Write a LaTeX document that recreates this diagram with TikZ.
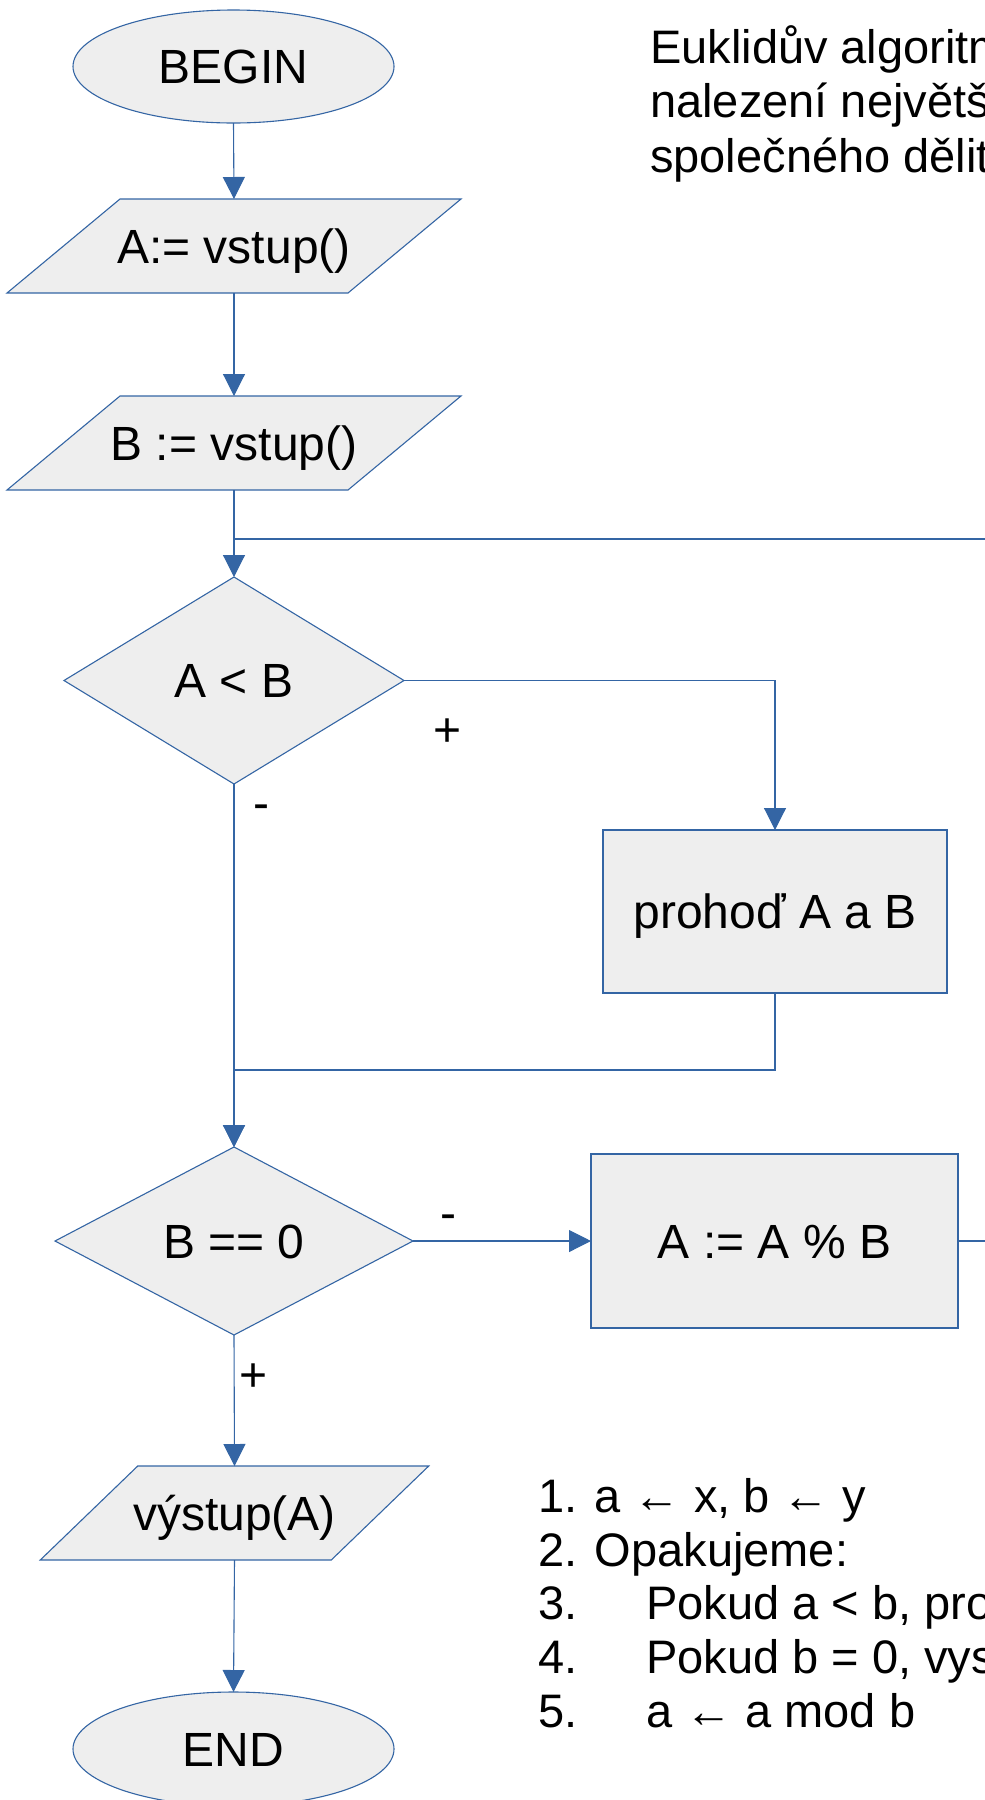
\documentclass[tikz,border=0pt]{standalone}
\usepackage{fontspec}
\setmainfont{Liberation Sans}
\usetikzlibrary{shapes.geometric,arrows.meta,calc}
\definecolor{edgeblue}{HTML}{3465A4}
\definecolor{shapefill}{HTML}{EEEEEE}

% parallelogram input/output block: name, x, y, half side, half slant, text
\newcommand\ioblock[6]{%
  \filldraw[ioshape] (#2-#4+#5,#3-47) -- (#2+#4+#5,#3-47)
    -- (#2+#4-#5,#3+47) -- (#2-#4-#5,#3+47) -- cycle;
  \node[iotext] (#1) at (#2,#3) {#6};
}

\begin{document}
\begin{tikzpicture}[x=1pt,y=-1pt,
  every node/.style={font=\fontsize{48pt}{54pt}\selectfont},
  shapebase/.style={draw=edgeblue, fill=shapefill, line width=1.1pt,
    inner sep=0pt, outer sep=0pt, text height=34pt, text depth=0pt},
  terminal/.style={shapebase, ellipse, minimum width=321pt, minimum height=113pt},
  decision/.style={shapebase, diamond},
  process/.style={shapebase, rectangle},
  ioshape/.style={draw=edgeblue, fill=shapefill, line width=1.1pt},
  iotext/.style={rectangle, inner sep=0pt, outer sep=0pt, minimum width=200pt,
    minimum height=94pt, text height=34pt, text depth=0pt},
  flow/.style={draw=edgeblue, line width=1.1pt, -{Triangle[length=22pt,width=22pt]}},
  link/.style={draw=edgeblue, line width=1.1pt},
  branch/.style={anchor=base, inner sep=0pt},
  prose/.style={anchor=base west, inner sep=0pt, font=\fontsize{47pt}{54pt}\selectfont}
]
\useasboundingbox (0,0) rectangle (985,1800);

% heading
\node[prose] (title1) at (650,63) {Euklidův algoritmus pro};
\node[prose] (title2) at (650,117) {nalezení největšího};
\node[prose] (title3) at (650,172) {společného dělitele};

% flowchart blocks
\node[terminal] (begin) at (233.5,66.5) {BEGIN};
\ioblock{in1}{234}{246}{170.5}{56.5}{A:= vstup()}
\ioblock{in2}{234}{443}{170.5}{56.5}{B := vstup()}
\node[decision, minimum width=340pt, minimum height=207pt] (altb) at (234,680.5) {A < B};
\node[process, minimum width=344pt, minimum height=163pt] (swap) at (775,911.5) {prohoď A a B};
\node[decision, minimum width=358pt, minimum height=188pt] (b0) at (234,1241) {B == 0};
\node[process, minimum width=367pt, minimum height=174pt] (mod) at (774.5,1241) {A := A \% B};
\ioblock{out}{234.5}{1513}{145.5}{48.75}{výstup(A)}
\node[terminal, minimum height=114pt] (end) at (233.5,1749) {END};

% connectors
\draw[flow] (begin.south) -- (in1.north);
\draw[flow] (in1.south) -- (in2.north);
\draw[flow] (in2.south) -- (altb.north);
\draw[flow] (altb.east) -| (swap.north);
\draw[flow] (altb.south) -- (b0.north);
\coordinate (merge) at (234,1070);
\draw[flow] (swap.south) |- (merge) -- (b0.north);
\draw[flow] (b0.east) -- (mod.west);
\draw[flow] (b0.south) -- (out.north);
\draw[flow] (out.south) -- (end.north);
\coordinate (back) at (1010,539);
\draw[link] (mod.east) -| (back) -- (back -| in2.south);

% branch labels
\node[branch] (yes1) at (448,746) {+};
\node[branch] (no1) at (261,819) {-};
\node[branch] (no2) at (448.5,1229) {-};
\node[branch] (yes2) at (254,1391) {+};

% algorithm in words
\node[prose] (step1) at (538,1512) {1. a ← x, b ← y};
\node[prose] (step2) at (538,1566) {2. Opakujeme:};
\node[prose] (step3) at (538,1619) {\makebox[108pt][l]{3.}Pokud a < b, prohoď a a b};
\node[prose] (step4) at (538,1673) {\makebox[108pt][l]{4.}Pokud b = 0, vyskoč z cyklu};
\node[prose] (step5) at (538,1727) {\makebox[108pt][l]{5.}a ← a mod b};
\end{tikzpicture}
\end{document}
